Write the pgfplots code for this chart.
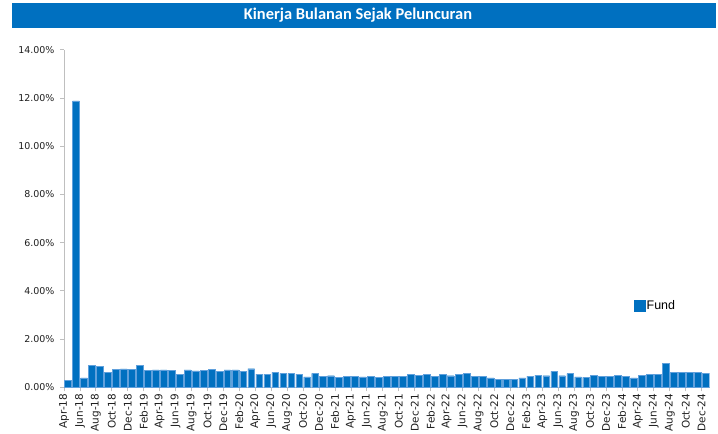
\documentclass[border=0pt]{standalone}
\usepackage{pgfplots}
\pgfplotsset{compat=1.18}
\usepackage{pgfplotstable}
\usepackage{fontspec}
\setmainfont{DejaVu Sans}
\newfontfamily\titlefont{Carlito}
\newfontfamily\legfont{Liberation Sans}
\definecolor{fundblue}{RGB}{0,112,192}
\definecolor{edgeblue}{RGB}{96,160,220}
\definecolor{axgray}{RGB}{191,191,191}
\definecolor{txtgray}{RGB}{30,30,30}

\pgfplotstableread{
x y
0 0.30
1 11.88
2 0.39
3 0.90
4 0.87
5 0.62
6 0.75
7 0.76
8 0.75
9 0.90
10 0.69
11 0.72
12 0.72
13 0.69
14 0.55
15 0.72
16 0.68
17 0.69
18 0.75
19 0.67
20 0.72
21 0.72
22 0.66
23 0.77
24 0.55
25 0.55
26 0.62
27 0.58
28 0.58
29 0.55
30 0.43
31 0.58
32 0.46
33 0.48
34 0.40
35 0.46
36 0.46
37 0.43
38 0.45
39 0.41
40 0.46
41 0.44
42 0.46
43 0.53
44 0.50
45 0.53
46 0.44
47 0.55
48 0.48
49 0.55
50 0.58
51 0.46
52 0.44
53 0.39
54 0.34
55 0.33
56 0.34
57 0.39
58 0.46
59 0.50
60 0.48
61 0.66
62 0.48
63 0.57
64 0.43
65 0.41
66 0.50
67 0.46
68 0.46
69 0.50
70 0.44
71 0.39
72 0.50
73 0.55
74 0.55
75 1.00
76 0.63
77 0.61
78 0.63
79 0.63
80 0.58
}\fund

\begin{document}
\begin{tikzpicture}
\path[use as bounding box] (0bp,0bp) rectangle (718bp,434bp);
\fill[fundblue] (12bp,406bp) rectangle (716bp,431bp);
\node[text=white, font=\titlefont\bfseries\fontsize{16.5}{18}\selectfont] at (358bp,418.5bp) {Kinerja Bulanan Sejak Peluncuran};
\begin{axis}[
  at={(64bp,46.7bp)}, anchor=south west, scale only axis,
  width=645.6bp, height=337.6bp,
  xmin=-0.5, xmax=80.5, ymin=0, ymax=14,
  axis x line*=bottom, axis y line*=left,
  axis line style={draw=axgray, line width=1bp, -},
  tick align=outside,
  major tick length=4bp,
  tick style={draw=axgray, line width=0.8bp},
  ytick={0,2,...,14},
  yticklabels={0.00\%,2.00\%,4.00\%,6.00\%,8.00\%,10.00\%,12.00\%,14.00\%},
  yticklabel style={font=\fontsize{9.5}{10}\selectfont, text=txtgray, xshift=-2bp},
  xtick={-0.5,1.5,...,79.5},
  xticklabels={Apr-18,Jun-18,Aug-18,Oct-18,Dec-18,Feb-19,Apr-19,Jun-19,Aug-19,Oct-19,Dec-19,Feb-20,Apr-20,Jun-20,Aug-20,Oct-20,Dec-20,Feb-21,Apr-21,Jun-21,Aug-21,Oct-21,Dec-21,Feb-22,Apr-22,Jun-22,Aug-22,Oct-22,Dec-22,Feb-23,Apr-23,Jun-23,Aug-23,Oct-23,Dec-23,Feb-24,Apr-24,Jun-24,Aug-24,Oct-24,Dec-24},
  xticklabel style={rotate=90, anchor=east, font=\fontsize{10.5}{11}\selectfont, text=txtgray, xshift=1bp},
  legend style={at={(0.883,0.241)}, anchor=west, draw=none, fill=none, inner sep=0pt,
    font=\legfont\fontsize{12.5}{13}\selectfont, text=black,
    nodes={inner sep=1pt}},
  legend image code/.code={\fill[fundblue] (0bp,-5.5bp) rectangle (11bp,5.5bp);},
]
\addplot[ybar, bar width=0.84, fill=fundblue, draw=edgeblue, line width=0.4bp] table[x=x,y=y]{\fund};
\addlegendentry{Fund}
\end{axis}
\end{tikzpicture}
\end{document}
